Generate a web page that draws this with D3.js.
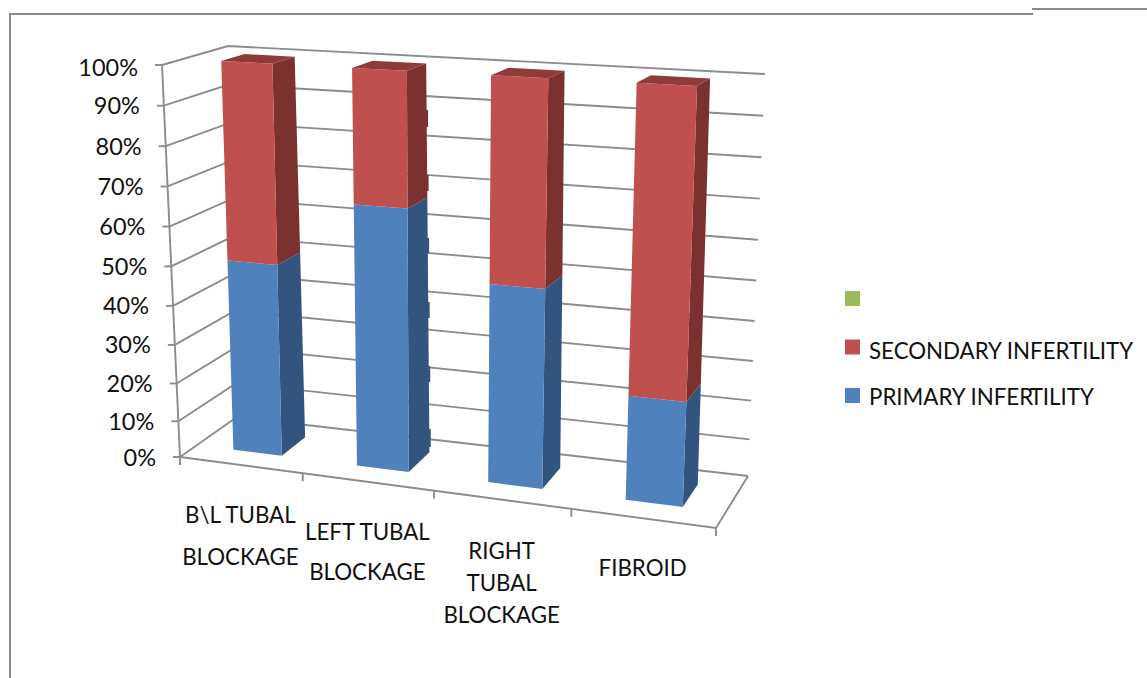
<!DOCTYPE html>
<html>
<head>
<meta charset="utf-8">
<style>
  html, body { margin: 0; padding: 0; background: #fff; }
  svg { display: block; }
  text { font-family: Lato, "Open Sans", sans-serif; fill: #111; }
</style>
<script src="https://cdn.jsdelivr.net/npm/d3@7/dist/d3.min.js"></script>
</head>
<body>
<svg id="chart" width="1147" height="678"></svg>
<script>
// Share of each infertility type per cause, in percent
const categories = ["B\\L TUBAL BLOCKAGE", "LEFT TUBAL BLOCKAGE", "RIGHT TUBAL BLOCKAGE", "FIBROID"];
const primaryValues = [50, 66.7, 50, 26.3];
const secondaryValues = [50, 33.3, 50, 73.7];
const emptySeriesValues = [0, 0, 0, 0];
const tickValues = [0, 10, 20, 30, 40, 50, 60, 70, 80, 90, 100];
const tickLabels = tickValues.map(d => d + "%");
const categoryLines = [["B\\L TUBAL", "BLOCKAGE"], ["LEFT TUBAL", "BLOCKAGE"], ["RIGHT", "TUBAL", "BLOCKAGE"], ["FIBROID"]];
const seriesNames = ["PRIMARY INFERTILITY", "SECONDARY INFERTILITY", ""];

// Box corners on screen: f/b = front/back, l/r = left/right, 0/1 = floor/ceiling
const box = {
  fl0: [180, 457], fr0: [716, 528], bl0: [237, 417], br0: [748, 476],
  fl1: [162, 65],  fr1: [732, 95],  bl1: [228, 46],  br1: [765, 74]
};

// Perspective-spaced scales along the category axis, the value axis and the depth of a bar
const catScale = d3.scaleLinear().domain([0, 1, 2, 3, 4]).range([0, 0.229, 0.474, 0.73, 1]);
const valScale = d3.scalePow().exponent(1.04).domain([0, 100]).range([0, 1]);
const backDepth = d3.scaleLinear().domain([0, 100]).range([0.74, 0.68]);
const frontDepth = d3.scaleLinear().domain([0, 100]).range([0.3, 0.315]);

const mix = (a, b, t) => [a[0] + (b[0] - a[0]) * t, a[1] + (b[1] - a[1]) * t];
function project(u, w, value) {
  const t = valScale(value);
  const fl = mix(box.fl0, box.fl1, t), fr = mix(box.fr0, box.fr1, t);
  const bl = mix(box.bl0, box.bl1, t), br = mix(box.br0, box.br1, t);
  return mix(mix(fl, fr, u), mix(bl, br, u), w);
}

const svg = d3.select("#chart");
const gridColor = "#8c8c8c";
const line = d3.line();
const poly = pts => line(pts) + "Z";

// Page frame
const frame = svg.append("g").attr("fill", "none").attr("stroke", "#8a8a8a").attr("stroke-width", 2);
frame.append("path").attr("d", line([[10, 678], [10, 14], [1033, 14]]));
frame.append("path").attr("d", line([[1032, 9], [1147, 9]]));

// Walls: gridlines on the left and back planes
const grid = svg.append("g").attr("fill", "none").attr("stroke", gridColor).attr("stroke-width", 1.9);
tickValues.forEach(v => {
  grid.append("path").attr("d", line([project(0, 0, v), project(0, 1, v), project(1, 1, v)]));
});

// Axis lines, floor outline and tick marks
grid.append("path").attr("d", line([project(0, 0, 0), project(0, 0, 100)]));
grid.append("path").attr("d", line([project(0, 0, 0), project(1, 0, 0), project(1, 1, 0)]));
tickValues.forEach(v => {
  const [x, y] = project(0, 0, v);
  grid.append("path").attr("d", line([[x - 7, y], [x, y]]));
});
d3.range(0, 5).forEach(i => {
  const [x, y] = project(catScale(i), 0, 0);
  grid.append("path").attr("d", line([[x, y], [x, y + 8]]));
});

// Value axis labels
svg.append("g").selectAll("text").data(tickValues).join("text")
  .attr("x", v => project(0, 0, v)[0] - 24)
  .attr("y", v => project(0, 0, v)[1] + (v === 100 ? 10.5 : 8.5))
  .attr("text-anchor", "end")
  .attr("font-size", 23.5)
  .text((v, i) => tickLabels[i]);

// Stacked bars: front, side and top faces for each segment
const barColors = [
  { front: "#4F81BD", side: "#31557F", top: "#3D6593" },
  { front: "#C0504D", side: "#7B312F", top: "#8F3B39" },
  { front: "#9BBB59", side: "#67803A", top: "#7A9645" }
];
const legendColors = barColors.map(c => c.front);
const stackRows = categories.map((c, i) => ({ i, a: primaryValues[i], b: secondaryValues[i], c: emptySeriesValues[i] }));
const layers = d3.stack().keys(["a", "b", "c"])(stackRows);
const barFraction = 0.4;

const bars = svg.append("g");
layers.forEach((layer, s) => {
  const color = barColors[s];
  layer.forEach((seg, i) => {
    const [v0, v1] = seg;
    if (v1 <= v0) return;
    const uL = catScale(i + 0.5 - barFraction / 2);
    const uR = catScale(i + 0.5 + barFraction / 2);
    const fw0 = frontDepth(v0), fw1 = frontDepth(v1);
    const bw0 = backDepth(v0), bw1 = backDepth(v1);
    bars.append("path").attr("fill", color.side)
      .attr("d", poly([project(uR, fw0, v0), project(uR, bw0, v0), project(uR, bw1, v1), project(uR, fw1, v1)]));
    bars.append("path").attr("fill", color.front)
      .attr("d", poly([project(uL, fw0, v0), project(uR, fw0, v0), project(uR, fw1, v1), project(uL, fw1, v1)]));
    if (v1 >= 100) {
      bars.append("path").attr("fill", color.top)
        .attr("d", poly([project(uL, fw1, v1), project(uR, fw1, v1), project(uR, bw1, v1), project(uL, bw1, v1)]));
    }
  });
});

// Small stepped tabs along the rear edge of the second bar
const tabBands = [[110, 127, 1], [175, 191, 1], [238, 253, 0], [302, 318, 0], [366, 382, 0], [429, 447, 0]];
const tabU = catScale(1 + 0.5 + barFraction / 2);
tabBands.forEach(([y0, y1, s]) => {
  const edgeTop = project(tabU, backDepth(100), 100);
  const edgeBottom = project(tabU, backDepth(0), 0);
  const x = edgeTop[0] + (edgeBottom[0] - edgeTop[0]) * (y0 - edgeTop[1]) / (edgeBottom[1] - edgeTop[1]);
  bars.append("rect").attr("x", x - 3).attr("y", y0).attr("width", 4.5).attr("height", y1 - y0)
    .attr("fill", barColors[s].side);
});

// Category labels under the floor edge
const labelTop = [522, 539, 558, 575];
const lineStep = [42, 40, 32, 0];
const catLabels = svg.append("g").attr("text-anchor", "middle").attr("font-size", 22.3);
categoryLines.forEach((lines, i) => {
  const x = project(catScale(i + 0.5), 0, 0)[0];
  lines.forEach((t, j) => {
    catLabels.append("text").attr("x", x - 1).attr("y", labelTop[i] + 1 + j * lineStep[i]).text(t);
  });
});

// Legend, last series first
const legendRows = [2, 1, 0];
const legendY = d3.scalePoint().domain(legendRows).range([298.5, 395.5]);
const legendTextOffset = [9, 11.5, 0];
const legend = svg.append("g");
legendRows.forEach(s => {
  const y = legendY(s);
  legend.append("rect").attr("x", 845).attr("y", y - 7.5).attr("width", 15).attr("height", 15).attr("fill", legendColors[s]);
  if (!seriesNames[s]) return;
  const label = legend.append("text").attr("x", 869).attr("y", y + legendTextOffset[s]).attr("font-size", 22.3);
  const cut = seriesNames[s].startsWith("PRIMARY") ? seriesNames[s].indexOf("TILITY") : -1;
  if (cut > 0) {
    // The tail of this label sits tight against the preceding letter
    label.append("tspan").text(seriesNames[s].slice(0, cut));
    label.append("tspan").attr("dx", -3).text(seriesNames[s].slice(cut));
  } else {
    label.text(seriesNames[s]);
  }
});
</script>
</body>
</html>
